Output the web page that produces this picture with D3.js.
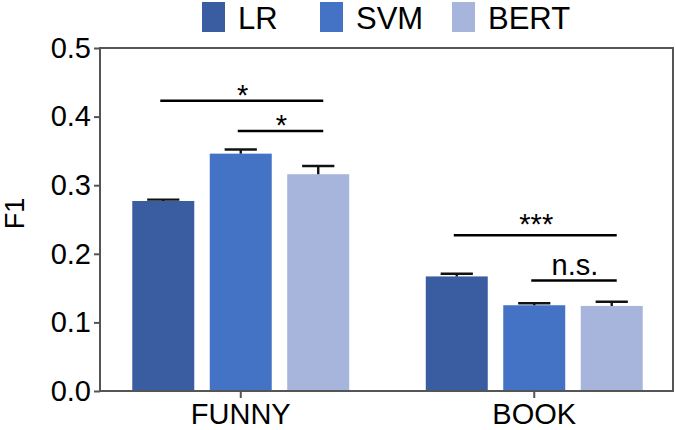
<!DOCTYPE html>
<html>
<head>
<meta charset="utf-8">
<script src="https://cdn.jsdelivr.net/npm/d3@7"></script>
<style>
  html, body { margin: 0; padding: 0; background: #fff; }
  svg { display: block; font-family: "Liberation Sans", Arial, Helvetica, sans-serif; }
</style>
</head>
<body>
<svg id="chart" width="676" height="430"></svg>
<script>
// ---- data ----
const categories = ["FUNNY", "BOOK"];
const series = ["LR", "SVM", "BERT"];
const lrValues   = [0.277, 0.167];
const svmValues  = [0.346, 0.125];
const bertValues = [0.316, 0.124];
const lrErrors   = [0.002, 0.004];
const svmErrors  = [0.006, 0.003];
const bertErrors = [0.012, 0.006];
const yTicks = [0.0, 0.1, 0.2, 0.3, 0.4, 0.5];
const yLabel = "F1";
// significance brackets: category, from series, to series, level (F1 units), label
const sigCategory = ["FUNNY", "FUNNY", "BOOK", "BOOK"];
const sigFrom     = ["LR", "SVM", "LR", "SVM"];
const sigTo       = ["BERT", "BERT", "BERT", "BERT"];
const sigLevel    = [0.423, 0.379, 0.227, 0.161];
const sigLabel    = ["*", "*", "***", "n.s."];

// ---- style / layout ----
const colors = ["#3A5DA2", "#4472C4", "#A7B5DD"];
const W = 676, H = 430;
const plot = { left: 100, right: 673, top: 48, bottom: 391 };
const axisColor = "#555";
const fontSize = 29;

const values = [lrValues, svmValues, bertValues];
const errors = [lrErrors, svmErrors, bertErrors];
const rows = [];
categories.forEach((c, ci) => series.forEach((s, si) => {
  rows.push({ cat: c, ser: s, si, v: values[si][ci], e: errors[si][ci] });
}));

const svg = d3.select("#chart");

const y = d3.scaleLinear().domain([0, 0.5]).range([plot.bottom, plot.top]);
const x0 = d3.scaleBand().domain(categories).range([plot.left - 6, plot.right + 8]).padding(0);
const x1 = d3.scaleBand().domain(series).range([0, x0.bandwidth()])
  .paddingInner(0.2).paddingOuter(0.494);
const color = d3.scaleOrdinal().domain(series).range(colors);
const cx = (c, s) => x0(c) + x1(s) + x1.bandwidth() / 2;

// bars
svg.append("g").selectAll("rect").data(rows).join("rect")
  .attr("x", d => x0(d.cat) + x1(d.ser))
  .attr("width", x1.bandwidth())
  .attr("y", d => y(d.v))
  .attr("height", d => y(0) - y(d.v))
  .attr("fill", d => color(d.ser));

// error bars
const capW = x1.bandwidth() * 0.52;
const eg = svg.append("g").attr("stroke", "#111").attr("stroke-width", 2.4);
eg.selectAll("line.v").data(rows).join("line").attr("class", "v")
  .attr("x1", d => cx(d.cat, d.ser)).attr("x2", d => cx(d.cat, d.ser))
  .attr("y1", d => y(d.v)).attr("y2", d => y(d.v + d.e));
eg.selectAll("line.c").data(rows).join("line").attr("class", "c")
  .attr("x1", d => cx(d.cat, d.ser) - capW / 2).attr("x2", d => cx(d.cat, d.ser) + capW / 2)
  .attr("y1", d => y(d.v + d.e)).attr("y2", d => y(d.v + d.e));

// frame
svg.append("rect")
  .attr("x", plot.left).attr("y", plot.top)
  .attr("width", plot.right - plot.left).attr("height", plot.bottom - plot.top)
  .attr("fill", "none").attr("stroke", axisColor).attr("stroke-width", 2);

// y axis
const yAxis = svg.append("g").attr("transform", `translate(${plot.left},0)`)
  .call(d3.axisLeft(y).tickValues(yTicks).tickFormat(d3.format(".1f")).tickSize(6).tickPadding(3));
yAxis.select(".domain").remove();
yAxis.selectAll("line").attr("stroke", axisColor).attr("stroke-width", 2);
yAxis.selectAll("text").attr("font-size", fontSize).attr("fill", "#000")
  .attr("font-family", "Liberation Sans, Arial, sans-serif");

// x axis
const xAxis = svg.append("g").attr("transform", `translate(0,${plot.bottom})`)
  .call(d3.axisBottom(x0).tickSize(7).tickPadding(5));
xAxis.select(".domain").remove();
xAxis.selectAll("line").attr("stroke", axisColor).attr("stroke-width", 2);
xAxis.selectAll("text").attr("font-size", fontSize).attr("fill", "#000")
  .attr("font-family", "Liberation Sans, Arial, sans-serif");

// y label
svg.append("text")
  .attr("transform", `translate(24,${(plot.top + plot.bottom) / 2 - 6}) rotate(-90)`)
  .attr("text-anchor", "middle")
  .attr("font-size", 27).text(yLabel);

// significance brackets
const sig = sigLabel.map((lab, i) => ({
  lab, cat: sigCategory[i], a: sigFrom[i], b: sigTo[i], lv: sigLevel[i]
}));
const sg = svg.append("g");
sg.selectAll("line").data(sig).join("line")
  .attr("x1", d => cx(d.cat, d.a) - 3).attr("x2", d => cx(d.cat, d.b) + 5)
  .attr("y1", d => y(d.lv)).attr("y2", d => y(d.lv))
  .attr("stroke", "#000").attr("stroke-width", 2.4);
sg.selectAll("text").data(sig).join("text")
  .attr("x", d => (cx(d.cat, d.a) + cx(d.cat, d.b)) / 2 + 2)
  .attr("y", d => d.lab === "n.s." ? y(d.lv) - 6 : (d.lab === "***" ? y(d.lv) - 1 : y(d.lv) + 4))
  .attr("text-anchor", "middle")
  .attr("font-size", fontSize)
  .text(d => d.lab);

// legend
const legendX = [202, 320, 452];
const lg = svg.append("g").selectAll("g").data(series).join("g")
  .attr("transform", (d, i) => `translate(${legendX[i]},2)`);
lg.append("rect").attr("width", 23).attr("height", 30).attr("fill", d => color(d));
lg.append("text").attr("x", 36).attr("y", 27).attr("font-size", 31).text(d => d);
</script>
</body>
</html>
